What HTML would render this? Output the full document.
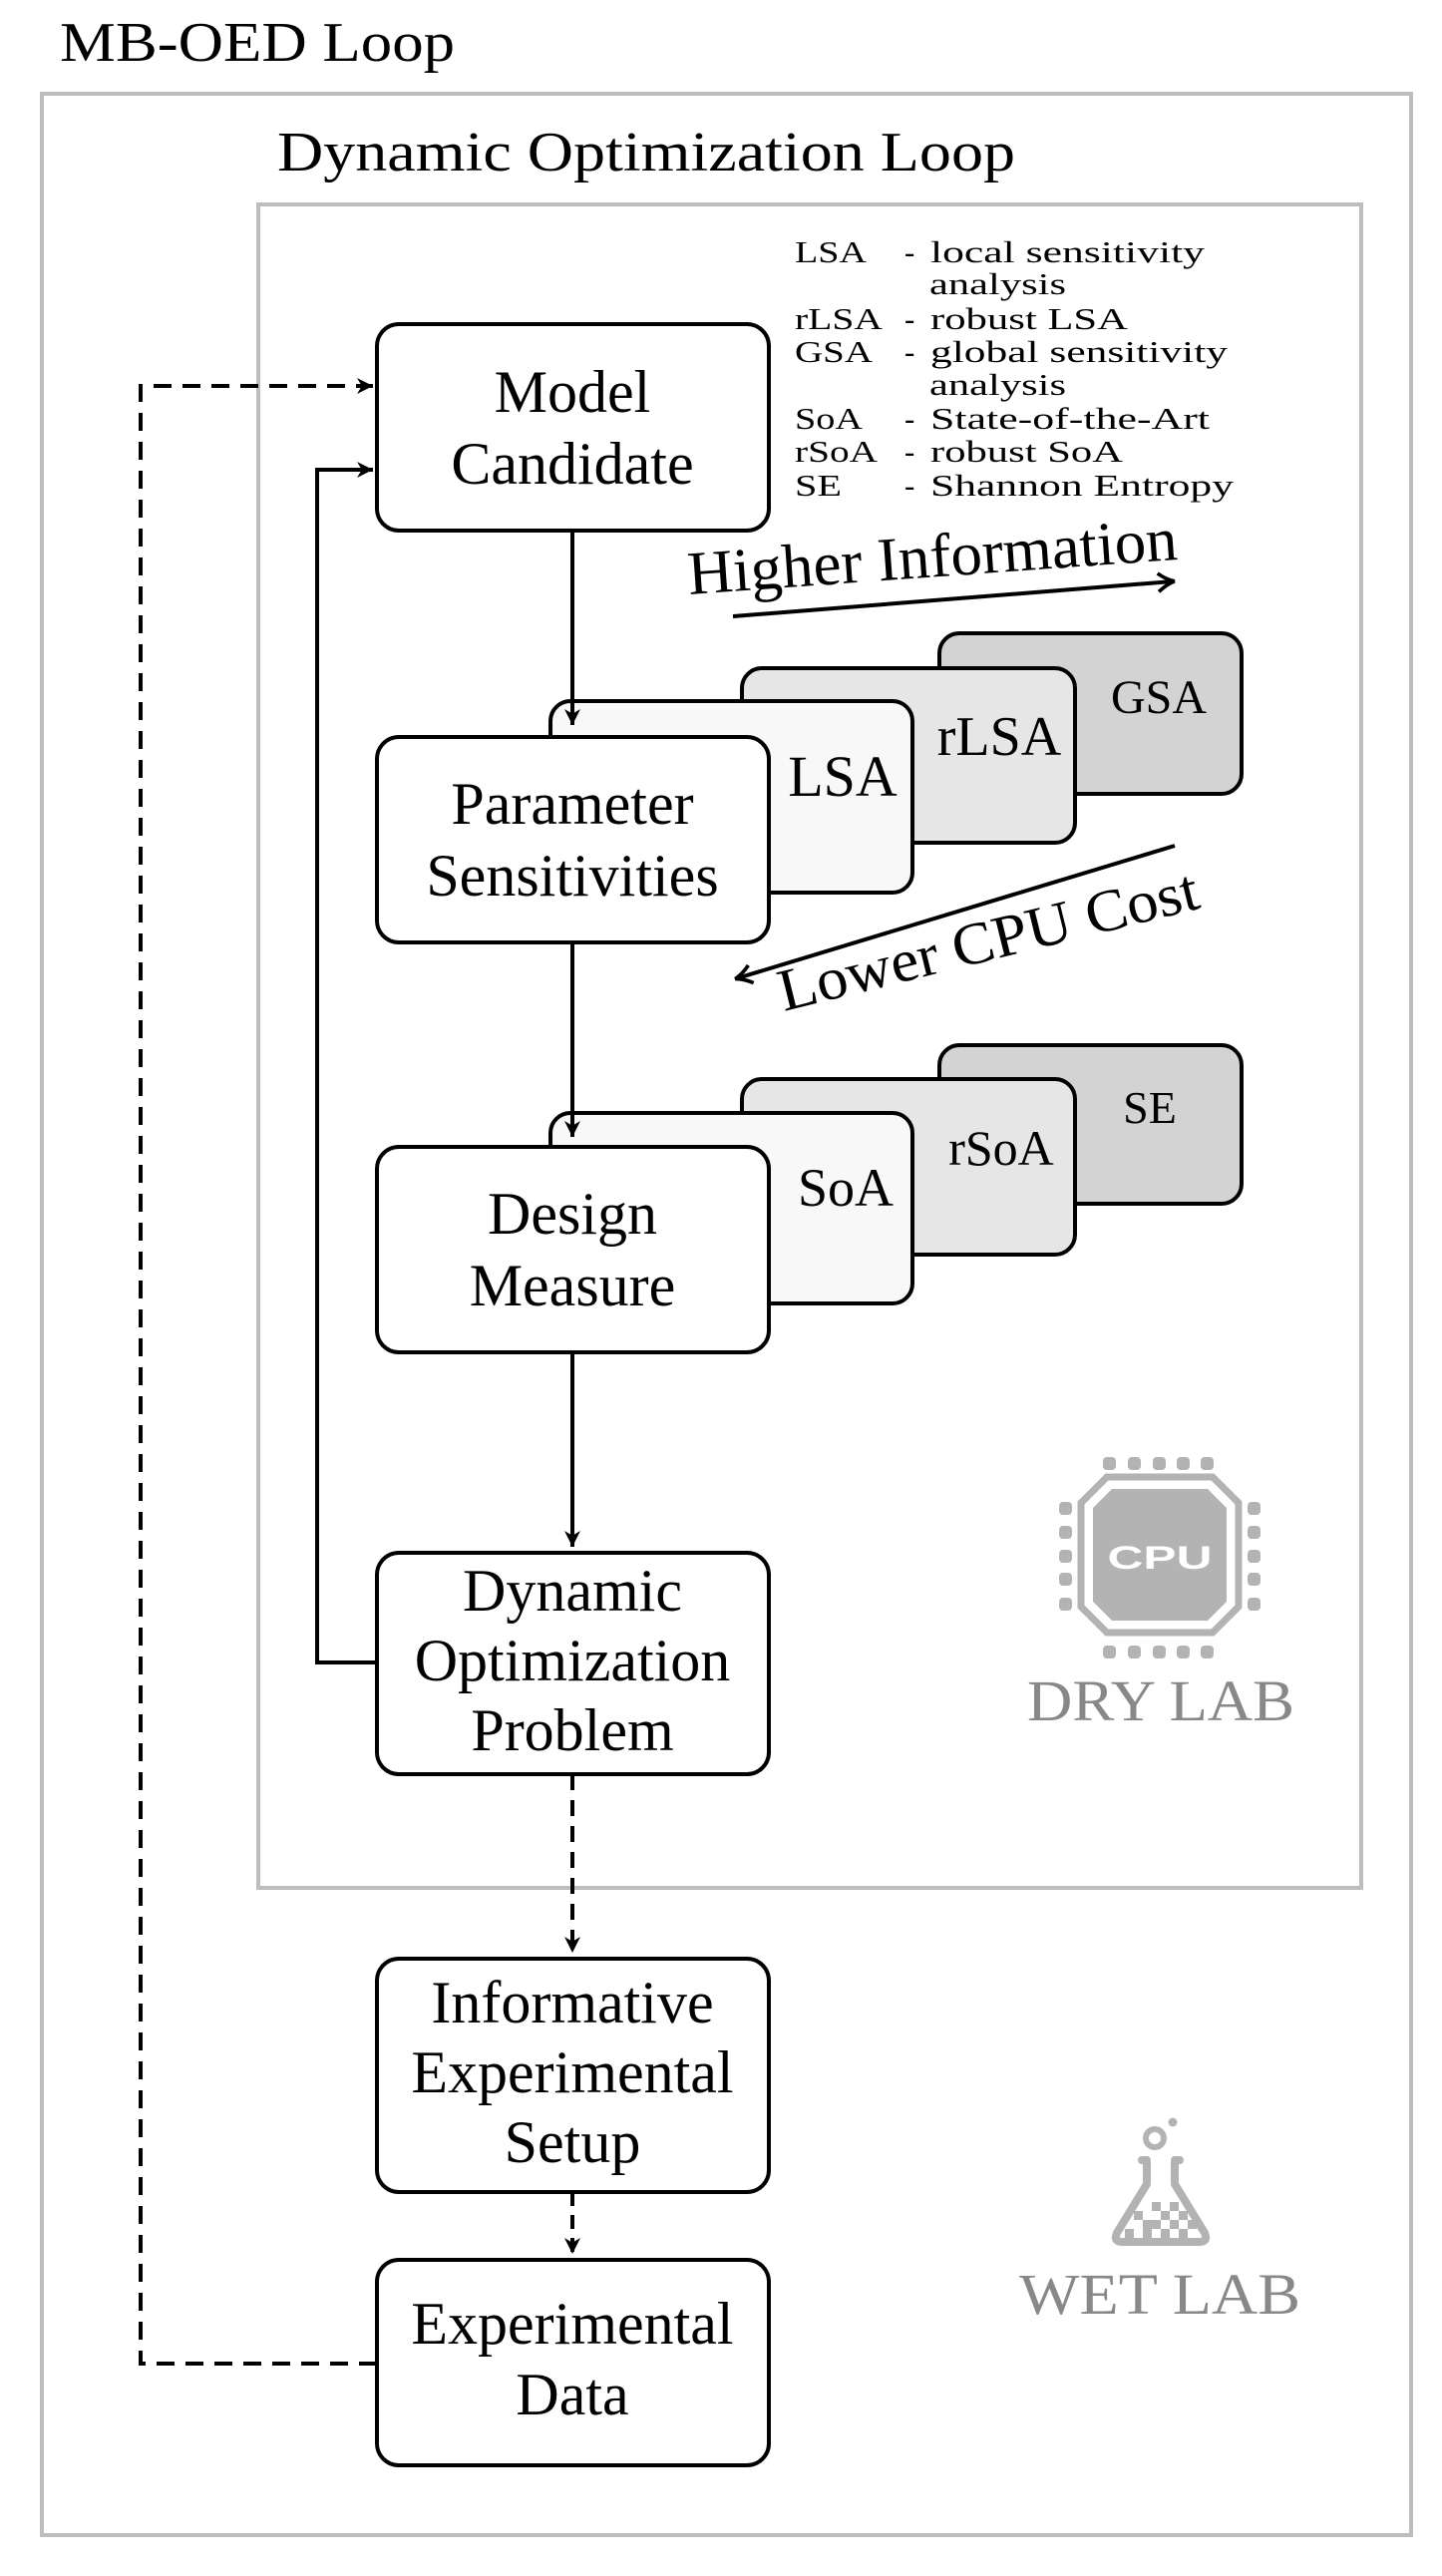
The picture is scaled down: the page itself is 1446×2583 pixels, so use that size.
<!DOCTYPE html>
<html><head><meta charset="utf-8"><style>
html,body{margin:0;padding:0;background:#fff;}
svg{display:block;}
text{font-family:"Liberation Serif",serif;}
</style></head><body>
<svg width="1446" height="2583" viewBox="0 0 1446 2583" xmlns="http://www.w3.org/2000/svg">
<defs>
<marker id="ar" markerWidth="18" markerHeight="16" refX="10" refY="5" orient="auto" markerUnits="userSpaceOnUse" viewBox="0 0 10 10">
<path d="M0,0 L10,5 L0,10 L3,5 z" fill="#000"/>
</marker>
<marker id="ar2" markerWidth="22" markerHeight="22" refX="9" refY="6" orient="auto" markerUnits="userSpaceOnUse" viewBox="0 0 12 12">
<path d="M1,1 Q6,5 10,6 Q6,7 1,11" fill="none" stroke="#000" stroke-width="2"/>
</marker>
</defs>

<text x="60" y="61" font-size="56" textLength="396" lengthAdjust="spacingAndGlyphs">MB-OED Loop</text>
<rect x="42" y="94" width="1373" height="2448" fill="none" stroke="#bdbdbd" stroke-width="4"/>
<text x="278" y="171" font-size="56" textLength="740" lengthAdjust="spacingAndGlyphs">Dynamic Optimization Loop</text>
<rect x="259" y="205" width="1106" height="1688" fill="none" stroke="#bdbdbd" stroke-width="4"/>

<g font-size="31">
<text x="797" y="263" textLength="72" lengthAdjust="spacingAndGlyphs">LSA</text>
<text x="907" y="263">-</text>
<text x="933" y="263" textLength="275" lengthAdjust="spacingAndGlyphs">local sensitivity</text>
<text x="932" y="295" textLength="137" lengthAdjust="spacingAndGlyphs">analysis</text>
<text x="797" y="330" textLength="88" lengthAdjust="spacingAndGlyphs">rLSA</text>
<text x="907" y="330">-</text>
<text x="933" y="330" textLength="198" lengthAdjust="spacingAndGlyphs">robust LSA</text>
<text x="797" y="363" textLength="78" lengthAdjust="spacingAndGlyphs">GSA</text>
<text x="907" y="363">-</text>
<text x="933" y="363" textLength="298" lengthAdjust="spacingAndGlyphs">global sensitivity</text>
<text x="932" y="396" textLength="137" lengthAdjust="spacingAndGlyphs">analysis</text>
<text x="797" y="430" textLength="68" lengthAdjust="spacingAndGlyphs">SoA</text>
<text x="907" y="430">-</text>
<text x="933" y="430" textLength="280" lengthAdjust="spacingAndGlyphs">State-of-the-Art</text>
<text x="797" y="463" textLength="83" lengthAdjust="spacingAndGlyphs">rSoA</text>
<text x="907" y="463">-</text>
<text x="933" y="463" textLength="193" lengthAdjust="spacingAndGlyphs">robust SoA</text>
<text x="797" y="497" textLength="47" lengthAdjust="spacingAndGlyphs">SE</text>
<text x="907" y="497">-</text>
<text x="933" y="497" textLength="304" lengthAdjust="spacingAndGlyphs">Shannon Entropy</text>
</g>

<text x="691" y="596" font-size="62" transform="rotate(-4.1 691 596)" textLength="492" lengthAdjust="spacingAndGlyphs">Higher Information</text>
<line x1="735" y1="618" x2="1176" y2="583" stroke="#000" stroke-width="4" marker-end="url(#ar2)"/>

<g stroke="#000" stroke-width="4">
<rect x="942" y="635" width="303" height="161" rx="20" fill="#d3d3d3"/>
<rect x="744" y="670" width="334" height="175" rx="20" fill="#e6e6e6"/>
<rect x="552" y="703" width="363" height="192" rx="20" fill="#f8f8f8"/>
</g>
<text x="1162" y="715" font-size="48" text-anchor="middle">GSA</text>
<text x="1002" y="757" font-size="56" text-anchor="middle">rLSA</text>
<text x="845" y="798" font-size="58" text-anchor="middle">LSA</text>

<line x1="1178" y1="848" x2="739" y2="981" stroke="#000" stroke-width="4" marker-end="url(#ar2)"/>
<text x="786" y="1014" font-size="60" transform="rotate(-13.9 786 1014)" textLength="432" lengthAdjust="spacingAndGlyphs">Lower CPU Cost</text>

<g stroke="#000" stroke-width="4">
<rect x="942" y="1048" width="303" height="159" rx="20" fill="#d3d3d3"/>
<rect x="744" y="1082" width="334" height="176" rx="20" fill="#e6e6e6"/>
<rect x="552" y="1116" width="363" height="191" rx="20" fill="#f8f8f8"/>
</g>
<text x="1153" y="1126" font-size="46" text-anchor="middle">SE</text>
<text x="1004" y="1168" font-size="50" text-anchor="middle">rSoA</text>
<text x="848" y="1209" font-size="54" text-anchor="middle">SoA</text>

<g stroke="#000" stroke-width="4" fill="#fff">
<rect x="378" y="325" width="393" height="207" rx="22"/>
<rect x="378" y="739" width="393" height="206" rx="22"/>
<rect x="378" y="1150" width="393" height="206" rx="22"/>
<rect x="378" y="1557" width="393" height="222" rx="22"/>
<rect x="378" y="1964" width="393" height="234" rx="22"/>
<rect x="378" y="2266" width="393" height="206" rx="22"/>
</g>
<g font-size="60" text-anchor="middle">
<text x="574" y="413">Model</text>
<text x="574" y="485">Candidate</text>
<text x="574" y="826">Parameter</text>
<text x="574" y="898">Sensitivities</text>
<text x="574" y="1237">Design</text>
<text x="574" y="1309">Measure</text>
<text x="574" y="1615">Dynamic</text>
<text x="574" y="1685">Optimization</text>
<text x="574" y="1755">Problem</text>
<text x="574" y="2028">Informative</text>
<text x="574" y="2098">Experimental</text>
<text x="574" y="2168">Setup</text>
<text x="574" y="2350">Experimental</text>
<text x="574" y="2421">Data</text>
</g>

<g stroke="#000" stroke-width="4" fill="none">
<line x1="574" y1="532" x2="574" y2="727" marker-end="url(#ar)"/>
<line x1="574" y1="945" x2="574" y2="1140" marker-end="url(#ar)"/>
<line x1="574" y1="1356" x2="574" y2="1551" marker-end="url(#ar)"/>
<line x1="574" y1="1779" x2="574" y2="1958" stroke-dasharray="16 10" marker-end="url(#ar)"/>
<line x1="574" y1="2198" x2="574" y2="2260" stroke-dasharray="14 9" marker-end="url(#ar)"/>
<polyline points="378,1667 318,1667 318,471 374,471" marker-end="url(#ar)"/>
<polyline points="378,2370 141,2370 141,387 374,387" stroke-dasharray="18 11" marker-end="url(#ar)"/>
</g>

<g fill="#b3b3b3">
<rect x="1106" y="1461" width="13" height="13" rx="4"/>
<rect x="1131" y="1461" width="13" height="13" rx="4"/>
<rect x="1156" y="1461" width="13" height="13" rx="4"/>
<rect x="1180" y="1461" width="13" height="13" rx="4"/>
<rect x="1204" y="1461" width="13" height="13" rx="4"/>
<rect x="1106" y="1650" width="13" height="13" rx="4"/>
<rect x="1131" y="1650" width="13" height="13" rx="4"/>
<rect x="1156" y="1650" width="13" height="13" rx="4"/>
<rect x="1180" y="1650" width="13" height="13" rx="4"/>
<rect x="1204" y="1650" width="13" height="13" rx="4"/>
<rect x="1062" y="1506" width="13" height="13" rx="4"/>
<rect x="1062" y="1530" width="13" height="13" rx="4"/>
<rect x="1062" y="1554" width="13" height="13" rx="4"/>
<rect x="1062" y="1577" width="13" height="13" rx="4"/>
<rect x="1062" y="1602" width="13" height="13" rx="4"/>
<rect x="1251" y="1506" width="13" height="13" rx="4"/>
<rect x="1251" y="1530" width="13" height="13" rx="4"/>
<rect x="1251" y="1554" width="13" height="13" rx="4"/>
<rect x="1251" y="1577" width="13" height="13" rx="4"/>
<rect x="1251" y="1602" width="13" height="13" rx="4"/>
<path d="M1110,1481 L1216,1481 L1242,1507 L1242,1611 L1216,1637 L1110,1637 L1084,1611 L1084,1507 Z" fill="none" stroke="#b3b3b3" stroke-width="7"/>
<path d="M1115,1493 L1211,1493 L1230,1512 L1230,1606 L1211,1625 L1115,1625 L1096,1606 L1096,1512 Z"/>
</g>
<text x="1163" y="1573" font-size="32" font-weight="bold" fill="#fff" text-anchor="middle" style="font-family:'Liberation Sans',sans-serif" textLength="105" lengthAdjust="spacingAndGlyphs">CPU</text>
<text x="1030" y="1725" font-size="58" fill="#888" textLength="268" lengthAdjust="spacingAndGlyphs">DRY LAB</text>

<g fill="#b3b3b3">
<circle cx="1176" cy="2128" r="4.5"/>
<circle cx="1158" cy="2144" r="9" fill="none" stroke="#b3b3b3" stroke-width="6"/>
<path d="M1145,2166 L1150,2166 L1150,2190 L1120,2239 Q1116,2248 1126,2248 L1202,2248 Q1212,2248 1208,2239 L1178,2190 L1178,2166 L1183,2166" fill="none" stroke="#b3b3b3" stroke-width="8" stroke-linecap="round" stroke-linejoin="round"/>
<rect x="1155" y="2208" width="9" height="9"/>
<rect x="1173" y="2208" width="9" height="9"/>
<rect x="1137" y="2217" width="9" height="9"/>
<rect x="1164" y="2217" width="9" height="9"/>
<rect x="1182" y="2217" width="9" height="9"/>
<rect x="1146" y="2226" width="9" height="9"/>
<rect x="1173" y="2226" width="9" height="9"/>
<rect x="1155" y="2226" width="9" height="9"/>
<rect x="1191" y="2226" width="9" height="9"/>
<rect x="1128" y="2235" width="9" height="9"/>
<rect x="1164" y="2235" width="9" height="9"/>
<rect x="1182" y="2235" width="9" height="9"/>
<rect x="1146" y="2235" width="9" height="9"/>
</g>
<text x="1022" y="2320" font-size="58" fill="#888" textLength="282" lengthAdjust="spacingAndGlyphs">WET LAB</text>
</svg>
</body></html>
